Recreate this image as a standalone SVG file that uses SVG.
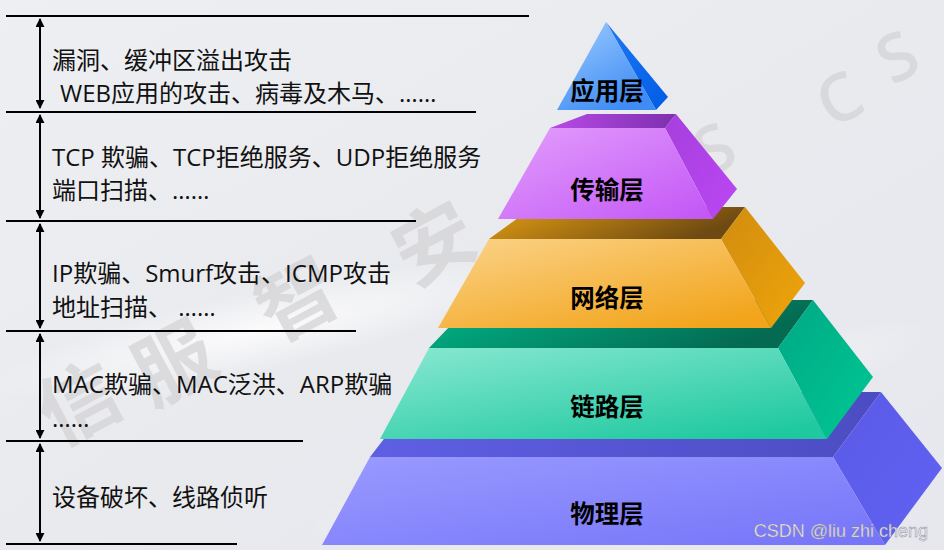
<svg xmlns="http://www.w3.org/2000/svg" width="944" height="550" viewBox="0 0 944 550">
<defs>
<linearGradient id="bg" x1="0" y1="0" x2="1" y2="1">
<stop offset="0" stop-color="#eeeff2"/><stop offset="0.5" stop-color="#e9eaee"/><stop offset="1" stop-color="#e6e8ee"/>
</linearGradient>
<radialGradient id="swirl" cx="0.5" cy="0.5" r="0.5">
<stop offset="0" stop-color="#ffffff" stop-opacity="0.8"/><stop offset="1" stop-color="#ffffff" stop-opacity="0"/>
</radialGradient>
<linearGradient id="aF" x1="0" y1="0" x2="0.6" y2="1"><stop offset="0" stop-color="#9fcdff"/><stop offset="1" stop-color="#3f8cf5"/></linearGradient>
<linearGradient id="aS" x1="0" y1="0" x2="1" y2="1"><stop offset="0" stop-color="#1f78f2"/><stop offset="1" stop-color="#005ce6"/></linearGradient>
<linearGradient id="tF" x1="0" y1="0" x2="1" y2="1"><stop offset="0" stop-color="#e39ffc"/><stop offset="1" stop-color="#c255f6"/></linearGradient>
<linearGradient id="tT" x1="0" y1="0" x2="1" y2="0"><stop offset="0" stop-color="#b84ae8"/><stop offset="1" stop-color="#7e2fae"/></linearGradient>
<linearGradient id="tS" x1="0" y1="0" x2="1" y2="1"><stop offset="0" stop-color="#a63fdc"/><stop offset="1" stop-color="#bb47f4"/></linearGradient>
<linearGradient id="nF" x1="0" y1="0" x2="0.8" y2="1"><stop offset="0" stop-color="#fbd38a"/><stop offset="1" stop-color="#f2a41a"/></linearGradient>
<linearGradient id="nT" x1="0" y1="0" x2="1" y2="0.3"><stop offset="0" stop-color="#e39d12"/><stop offset="1" stop-color="#6e4a12"/></linearGradient>
<linearGradient id="nS" x1="0" y1="0" x2="1" y2="1"><stop offset="0" stop-color="#d08c0e"/><stop offset="1" stop-color="#f0a50c"/></linearGradient>
<linearGradient id="lF" x1="0" y1="0" x2="0.8" y2="1"><stop offset="0" stop-color="#8ae8d2"/><stop offset="1" stop-color="#1fc9a0"/></linearGradient>
<linearGradient id="lT" x1="0" y1="0" x2="1" y2="0.3"><stop offset="0" stop-color="#00b688"/><stop offset="1" stop-color="#046a52"/></linearGradient>
<linearGradient id="lS" x1="0" y1="0" x2="1" y2="1"><stop offset="0" stop-color="#00a884"/><stop offset="1" stop-color="#00c894"/></linearGradient>
<linearGradient id="pF" x1="0" y1="0" x2="1" y2="1"><stop offset="0" stop-color="#9a9aff"/><stop offset="1" stop-color="#7574f9"/></linearGradient>
<linearGradient id="pT" x1="0" y1="0" x2="1" y2="0"><stop offset="0" stop-color="#5f5fe4"/><stop offset="1" stop-color="#4c4cc2"/></linearGradient>
<linearGradient id="pS" x1="0" y1="0" x2="1" y2="1"><stop offset="0" stop-color="#5a5ae6"/><stop offset="1" stop-color="#6262f4"/></linearGradient>
<marker id="ah" viewBox="0 0 10 10" refX="9" refY="5" markerWidth="4.5" markerHeight="4.5" orient="auto-start-reverse">
<path d="M0,0 L10,5 L0,10 z" fill="#000"/>
</marker>
</defs>
<style>
.desc{font-family:"Open Sans","Noto Sans CJK SC",sans-serif;font-size:24px;fill:#111;}
.lbl{font-family:"Noto Sans CJK SC",sans-serif;font-size:24.5px;font-weight:700;fill:#000;text-anchor:middle;}
.rule{stroke:#000;stroke-width:2.2;}
.arr{stroke:#000;stroke-width:2;marker-start:url(#ah);marker-end:url(#ah);}
.wm{font-family:"Noto Sans CJK SC",sans-serif;font-weight:700;font-size:80px;fill:#d4d4d6;opacity:0.75;}
.wml{font-family:"Open Sans",sans-serif;font-weight:600;font-size:66px;fill:#d6d6d8;opacity:0.8;}
</style>
<rect width="944" height="550" fill="url(#bg)"/>
<ellipse cx="260" cy="330" rx="280" ry="40" fill="url(#swirl)" transform="rotate(-12 260 330)"/>
<ellipse cx="620" cy="430" rx="330" ry="45" fill="url(#swirl)" transform="rotate(-18 620 430)"/>
<g id="watermark">
<text class="wm" x="80" y="432" text-anchor="middle" transform="rotate(-28 80 405)">信</text>
<text class="wm" x="175" y="392" text-anchor="middle" transform="rotate(-28 175 365)">服</text>
<text class="wm" x="298" y="328" text-anchor="middle" transform="rotate(-28 298 301)">智</text>
<text class="wm" x="435" y="272" text-anchor="middle" transform="rotate(-28 435 245)">安</text>
<text class="wml" x="715" y="172" text-anchor="middle" transform="rotate(-28 715 150)">S</text>
<text class="wml" x="840" y="122" text-anchor="middle" transform="rotate(-28 840 100)">C</text>
<text class="wml" x="898" y="80" text-anchor="middle" transform="rotate(-28 898 58)">S</text>
</g>
<g id="connectors">
<line class="rule" x1="6" y1="16" x2="529" y2="16"/>
<line class="rule" x1="6" y1="112" x2="476" y2="112"/>
<line class="rule" x1="6" y1="221" x2="416" y2="221"/>
<line class="rule" x1="6" y1="331" x2="356" y2="331"/>
<line class="rule" x1="6" y1="441" x2="303" y2="441"/>
<line class="rule" x1="6" y1="544" x2="237" y2="544"/>
<line class="arr" x1="40" y1="19" x2="40" y2="108"/>
<line class="arr" x1="40" y1="115" x2="40" y2="218"/>
<line class="arr" x1="40" y1="224" x2="40" y2="328"/>
<line class="arr" x1="40" y1="334" x2="40" y2="438"/>
<line class="arr" x1="40" y1="444" x2="40" y2="541"/>
</g>
<g id="attacks-app">
<text class="desc" x="52" y="69">漏洞、缓冲区溢出攻击</text>
<text class="desc" x="60" y="102">WEB应用的攻击、病毒及木马、……</text>
</g>
<g id="attacks-transport">
<text class="desc" x="52" y="166">TCP 欺骗、TCP拒绝服务、UDP拒绝服务</text>
<text class="desc" x="52" y="199">端口扫描、……</text>
</g>
<g id="attacks-network">
<text class="desc" x="52" y="282">IP欺骗、Smurf攻击、ICMP攻击</text>
<text class="desc" x="52" y="316">地址扫描、 ……</text>
</g>
<g id="attacks-link">
<text class="desc" x="52" y="393">MAC欺骗、MAC泛洪、ARP欺骗</text>
<text class="desc" x="52" y="427">……</text>
</g>
<g id="attacks-physical">
<text class="desc" x="52" y="506">设备破坏、线路侦听</text>
</g>
<g id="layer-physical">
<polygon points="370,457 420,392 881,392 833,457" fill="url(#pT)"/>
<polygon points="833,457 881,392 942,468 885,545" fill="url(#pS)"/>
<polygon points="370,457 833,457 885,545 322,545" fill="url(#pF)"/>
<text class="lbl" x="607" y="523">物理层</text>
</g>
<g id="layer-link">
<polygon points="429,348 475,300 813,300 778,348" fill="url(#lT)"/>
<polygon points="778,348 813,300 873,377 827,439" fill="url(#lS)"/>
<polygon points="429,348 778,348 827,439 380,439" fill="url(#lF)"/>
<text class="lbl" x="607" y="416">链路层</text>
</g>
<g id="layer-network">
<polygon points="489,239 533,207 745,207 721,239" fill="url(#nT)"/>
<polygon points="721,239 745,207 805,283 771,328" fill="url(#nS)"/>
<polygon points="489,239 721,239 771,328 438,328" fill="url(#nF)"/>
<text class="lbl" x="607" y="307">网络层</text>
</g>
<g id="layer-transport">
<polygon points="550,128 587,114 676,114 665,128" fill="url(#tT)"/>
<polygon points="665,128 676,114 737,189 713,219" fill="url(#tS)"/>
<polygon points="550,128 665,128 713,219 498,219" fill="url(#tF)"/>
<text class="lbl" x="607" y="199">传输层</text>
</g>
<g id="layer-app">
<polygon points="606,22 668,97 656,110" fill="url(#aS)"/>
<polygon points="606,22 557,110 656,110" fill="url(#aF)"/>
<text class="lbl" x="607" y="100">应用层</text>
</g>
<text x="928" y="537" text-anchor="end" font-family="Liberation Sans, sans-serif" font-size="18" fill="#f2f2f6" stroke="#8a8a9a" stroke-width="0.5">CSDN @liu zhi cheng</text>
</svg>
